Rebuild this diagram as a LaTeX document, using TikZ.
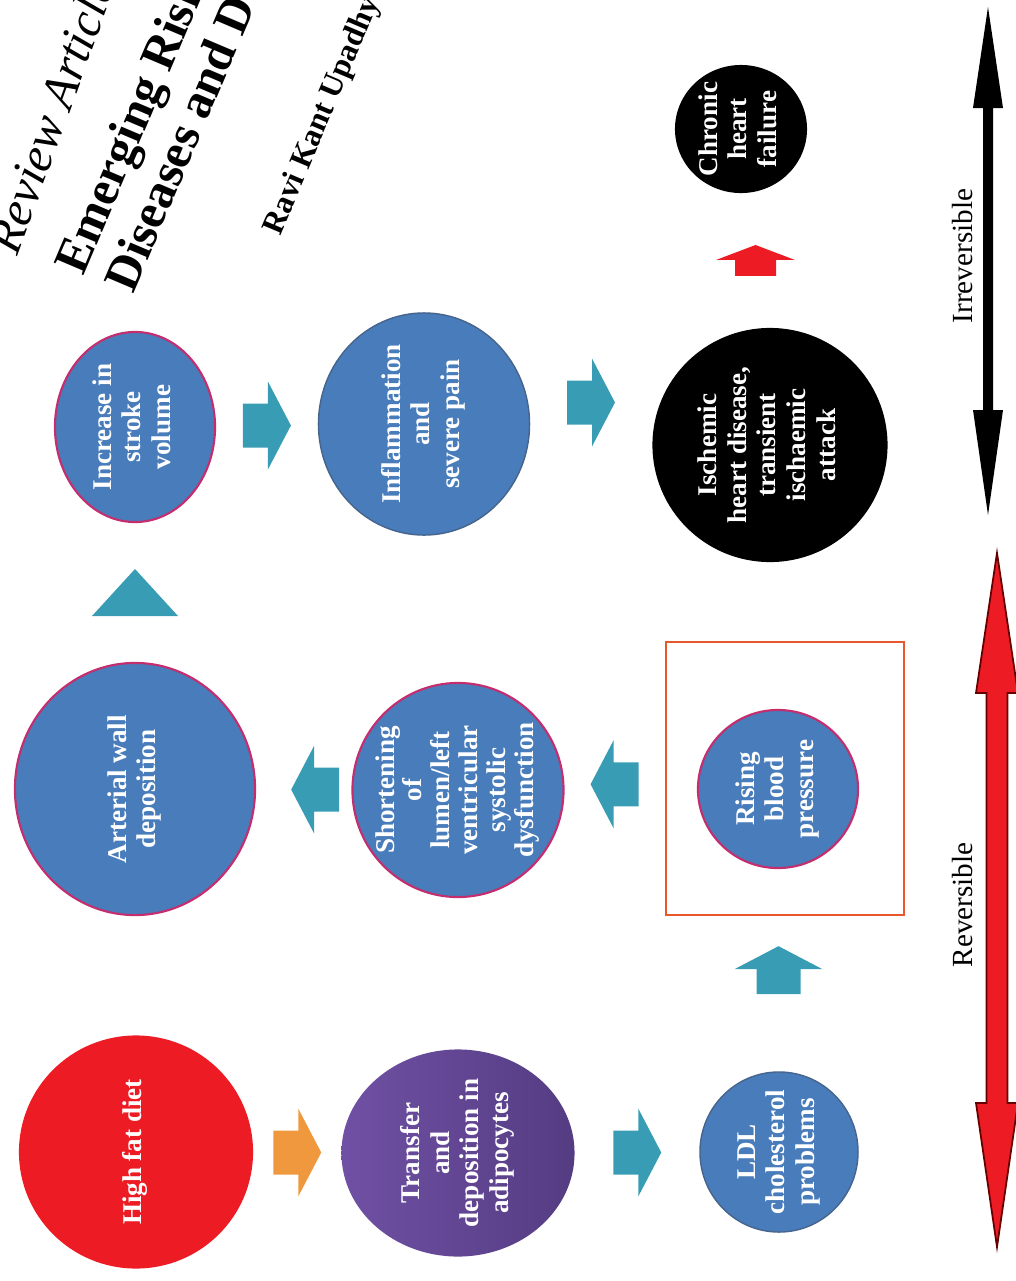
\documentclass[tikz,border=0pt]{standalone}
\usepackage{fontspec}
\setmainfont{Liberation Serif}
\usetikzlibrary{shapes.geometric,calc}

\definecolor{bubbleblue}{RGB}{72,124,186}
\definecolor{rimpink}{RGB}{196,45,110}
\definecolor{rimgrey}{RGB}{70,100,140}
\definecolor{fatred}{RGB}{237,28,36}
\definecolor{adipurple}{RGB}{112,80,164}
\definecolor{adipurpledark}{RGB}{84,60,130}
\definecolor{arrteal}{RGB}{56,156,180}
\definecolor{arrorange}{RGB}{240,152,62}
\definecolor{boxorange}{RGB}{232,88,44}

% text set upright in the bubbles, centred on the node, zero size
\newcommand{\vtext}[1]{\makebox[0pt]{\raisebox{-.5\height}[0pt][0pt]{\rotatebox{90}{\begin{tabular}{@{}c@{}}#1\end{tabular}}}}}
\newcommand{\bubblefont}{\fontsize{7.7}{8.5}\selectfont\bfseries}

\tikzset{
  blockarrow/.pic={\fill (-24,-22) -- (1,-22) -- (1,-44) -- (24,0) -- (1,44) -- (1,22) -- (-24,22) -- cycle;},
  smallarrow/.pic={\fill (-15.5,-20.5) -- (0.5,-20.5) -- (0.5,-39.5) -- (15.5,0) -- (0.5,39.5) -- (0.5,20.5) -- (-15.5,20.5) -- cycle;},
  wedge/.pic={\fill (23.5,0) -- (-23.5,43) -- (-23.5,-43) -- cycle;},
}

\begin{document}
\begin{tikzpicture}[x=0.01cm, y=-0.01cm,
    bubble/.style={ellipse, inner sep=0pt, text=white, font=\bubblefont},
    bluebub/.style={bubble, fill=bubbleblue, draw=rimpink, line width=0.6pt},
    greybub/.style={bubble, fill=bubbleblue, draw=rimgrey, line width=0.4pt},
    blackbub/.style={bubble, fill=black},
    barlabel/.style={rotate=90, font=\fontsize{8.3}{9}\selectfont},
    heading/.style={anchor=base west, inner sep=0pt}]
    \useasboundingbox (0,0) rectangle (1016,1281);

    % header of the page, cut by the edge
    \begin{scope}
        \clip (0,0) rectangle (1016,1281);
        \node[heading, rotate=70, font=\fontsize{14}{14}\selectfont\itshape] (rev) at (17,257) {Review Article};
        \node[heading, rotate=67, font=\fontsize{14}{14}\selectfont\bfseries] (tia) at (83,277) {Emerging Risk};
        \node[heading, rotate=67, font=\fontsize{14}{14}\selectfont\bfseries] (tib) at (133,295) {Diseases and D};
        \node[heading, rotate=67, font=\fontsize{9}{9}\selectfont\bfseries] (aut) at (280,237) {Ravi Kant Upadhyay};
    \end{scope}

    % bubbles
    \node[bluebub, minimum width=1.60cm, minimum height=1.90cm] (inc) at (135,427) {\vtext{Increase in\\stroke\\volume}};
    \node[bluebub, minimum width=2.40cm, minimum height=2.52cm] (art) at (135,789) {\vtext{Arterial wall\\deposition}};
    \node[bubble, fill=fatred, minimum width=2.34cm, minimum height=2.33cm] (hfd) at (136,1152) {\vtext{High fat diet}};
    \node[greybub, minimum width=2.11cm, minimum height=2.22cm] (inf) at (424,424) {\vtext{Inflammation\\and\\severe pain}};
    \node[bluebub, minimum width=2.11cm, minimum height=2.14cm, font=\fontsize{7.7}{7.9}\selectfont\bfseries] (sho) at (458,790) {\vtext{Shortening\\of\\lumen/left\\ventricular\\systolic\\dysfunction}};
    \node[bubble, shade, left color=adipurple, right color=adipurpledark, minimum width=2.33cm, minimum height=2.07cm] (tra) at (458,1153) {\vtext{Transfer\\and\\deposition in\\adipocytes}};
    \node[blackbub, minimum width=1.32cm, minimum height=1.28cm] (chf) at (741,129) {\vtext{Chronic\\heart\\failure}};
    \node[blackbub, minimum width=2.35cm, minimum height=2.34cm] (ihd) at (770,445) {\vtext{Ischemic\\heart disease,\\transient\\ischaemic\\attack}};
    \node[bluebub, minimum width=1.60cm, minimum height=1.58cm] (rbp) at (778,789) {\vtext{Rising\\blood\\pressure}};
    \node[greybub, minimum width=1.58cm, minimum height=1.60cm] (ldl) at (779,1152) {\vtext{LDL\\cholesterol\\problems}};
    \node[draw=boxorange, line width=0.8pt, minimum width=2.38cm, minimum height=2.73cm, inner sep=0pt] (frame) at (785,778.5) {};

    % block arrows between bubbles
    \pic[fill=arrorange] at ($(hfd.east)!0.5!(tra.west)$) {blockarrow};
    \pic[fill=arrteal] at ($(tra.east)!0.5!(ldl.west)$) {blockarrow};
    \pic[fill=arrteal, rotate=90] at ($(ldl.north)!0.5!(rbp.south)$) {blockarrow};
    \pic[fill=arrteal, rotate=180] at ($(sho.east)!0.5!(frame.west)$) {blockarrow};
    \pic[fill=arrteal, rotate=180] at ($(art.east)!0.62!(sho.west)$) {blockarrow};
    \pic[fill=arrteal, rotate=90] at ($(art.north)!0.5!(inc.south)$) {wedge};
    \pic[fill=arrteal] at ($(inc.east)!0.5!(inf.west)$) {blockarrow};
    \pic[fill=arrteal] at ($(inf.east)!0.5!(ihd.west)+(0,-32)$) {blockarrow};
    \pic[fill=fatred, rotate=90] at ($(ihd.north)!0.5!(chf.south)$) {smallarrow};

    % the two bars on the right
    \fill[black] (988,7) -- (1003,108) -- (993,108) -- (993,410) -- (1003,410) -- (988,515) -- (973,410) -- (983,410) -- (983,108) -- (973,108) -- cycle;
    \filldraw[fill=fatred, draw=black!60!red, line width=0.5pt] (997,553) -- (1018,693) -- (1007.5,693) -- (1007.5,1103) -- (1018,1103) -- (997,1247) -- (976,1103) -- (986.5,1103) -- (986.5,693) -- (976,693) -- cycle;
    \node[barlabel] (irr) at (963,256) {Irreversible};
    \node[barlabel] (rvs) at (963,905) {Reversible};
\end{tikzpicture}
\end{document}
